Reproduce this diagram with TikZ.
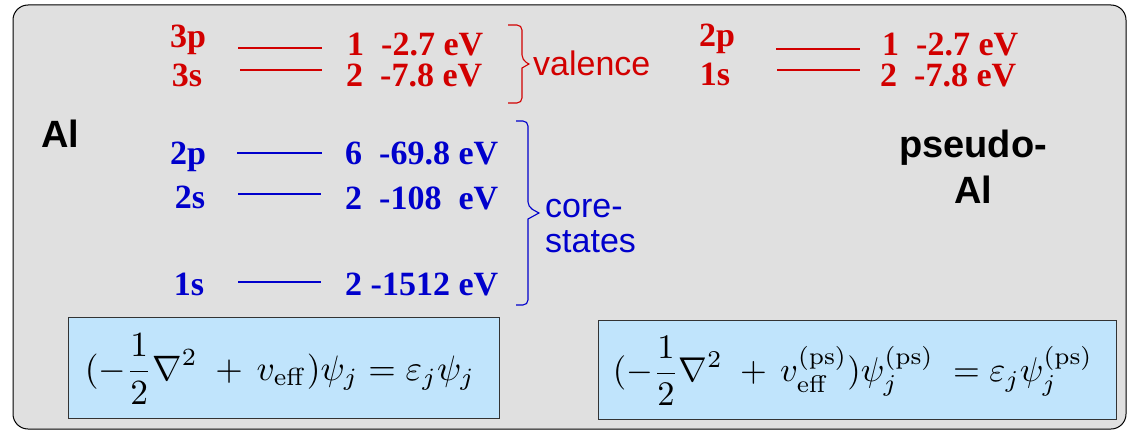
\documentclass[tikz,border=0pt]{standalone}
\usepackage{graphicx}
\usepackage[no-math]{fontspec}
\setmainfont{Liberation Serif}
\setsansfont{Liberation Sans}
\definecolor{lvred}{RGB}{210,0,0}
\definecolor{lvblue}{RGB}{0,0,204}
\definecolor{bggray}{RGB}{224,224,224}
\definecolor{eqblue}{RGB}{192,228,252}
\tikzset{
  lvl/.style={font=\bfseries\fontsize{34}{36}\selectfont, anchor=base west, inner sep=0pt},
  orb/.style={font=\bfseries\fontsize{34}{36}\selectfont, anchor=base, inner sep=0pt},
  lvline/.style={line width=1.1pt},
  grp/.style={font=\sffamily\fontsize{34}{36}\selectfont, anchor=base west, inner sep=0pt},
  atom/.style={font=\sffamily\bfseries\fontsize{38}{40}\selectfont, anchor=base, inner sep=0pt},
  bracepath/.style={line width=1.1pt, rounded corners=5pt},
  eqbox/.style={draw=black!80, line width=1pt, fill=eqblue, inner sep=0pt},
  eqtext/.style={inner sep=0pt}
}
\begin{document}
\begin{tikzpicture}[x=1pt,y=-1pt]
\useasboundingbox (0,0) rectangle (1130,436);
\draw[fill=bggray, draw=black, line width=1pt, rounded corners=15pt] (13,5) rectangle (1126,429);

% left Al
\node[atom] (al) at (60,147) {Al};

% valence (red)
\node[orb, lvred] (l3p) at (188,48) {3p};
\node[orb, lvred] (l3s) at (187,86) {3s};
\coordinate (a3p) at (238,48); \coordinate (b3p) at (322,48);
\coordinate (a3s) at (240,70); \coordinate (b3s) at (322,70);
\draw[lvline, lvred] (a3p) -- (b3p);
\draw[lvline, lvred] (a3s) -- (b3s);
\node[lvl, lvred] (e3p) at (347,56) {1\ \ -2.7 eV};
\node[lvl, lvred] (e3s) at (346,87) {2\ \ -7.8 eV};
\coordinate (vt) at (508,25);
\draw[bracepath, lvred] (vt) -- ++(14,0) -- ++(0,35) [sharp corners] -- ++(7,4) -- ++(-7,4) [rounded corners=5pt] -- ++(0,35) -- ++(-14,0);
\node[grp, lvred] (val) at (533,75) {valence};

% core (blue)
\node[orb, lvblue] (l2p) at (188,164) {2p};
\node[orb, lvblue] (l2s) at (190,208) {2s};
\node[orb, lvblue] (l1s) at (189,295) {1s};
\coordinate (a2p) at (237,153); \coordinate (b2p) at (322,153);
\coordinate (a2s) at (238,194); \coordinate (b2s) at (321,194);
\coordinate (a1s) at (238,282); \coordinate (b1s) at (321,282);
\draw[lvline, lvblue] (a2p) -- (b2p);
\draw[lvline, lvblue] (a2s) -- (b2s);
\draw[lvline, lvblue] (a1s) -- (b1s);
\node[lvl, lvblue] (e2p) at (345,164) {6\ \ -69.8 eV};
\node[lvl, lvblue] (e2s) at (345,209) {2\ \ -108\ \ eV};
\node[lvl, lvblue] (e1s) at (345,295) {2 -1512 eV};
\coordinate (ct) at (516,121);
\draw[bracepath, lvblue] (ct) -- ++(12,0) -- ++(0,86) [sharp corners] -- ++(11,6) -- ++(-11,6) [rounded corners=5pt] -- ++(0,86) -- ++(-12,0);
\node[grp, lvblue] (core1) at (545,217) {core-};
\node[grp, lvblue] (core2) at (545,252) {states};

% pseudo side (red)
\node[orb, lvred] (p2p) at (717,47) {2p};
\node[orb, lvred] (p1s) at (715,85) {1s};
\coordinate (c2p) at (776,49); \coordinate (d2p) at (860,49);
\coordinate (c1s) at (777,70); \coordinate (d1s) at (860,70);
\draw[lvline, lvred] (c2p) -- (d2p);
\draw[lvline, lvred] (c1s) -- (d1s);
\node[lvl, lvred] (q2p) at (882,56) {1\ \ -2.7 eV};
\node[lvl, lvred] (q1s) at (880,87) {2\ \ -7.8 eV};

\node[atom] (ps1) at (973,157) {pseudo-};
\node[atom] (ps2) at (973,203) {Al};

% equations
\draw[eqbox] (68,317) rectangle (499,418);
\node[eqtext] (eq1) at (280,369) {\resizebox{390pt}{!}{$\displaystyle (-\frac{1}{2}\nabla^2\;+\,v_{\mathrm{eff}})\psi_j=\varepsilon_j\psi_j$}};
\draw[eqbox] (598,320) rectangle (1116,419);
\node[eqtext] (eq2) at (853,371) {\resizebox{480pt}{!}{$\displaystyle (-\frac{1}{2}\nabla^2\;+\,v_{\mathrm{eff}}^{(\mathrm{ps})})\psi_j^{(\mathrm{ps})}\;=\varepsilon_j\psi_j^{(\mathrm{ps})}$}};
\end{tikzpicture}
\end{document}
